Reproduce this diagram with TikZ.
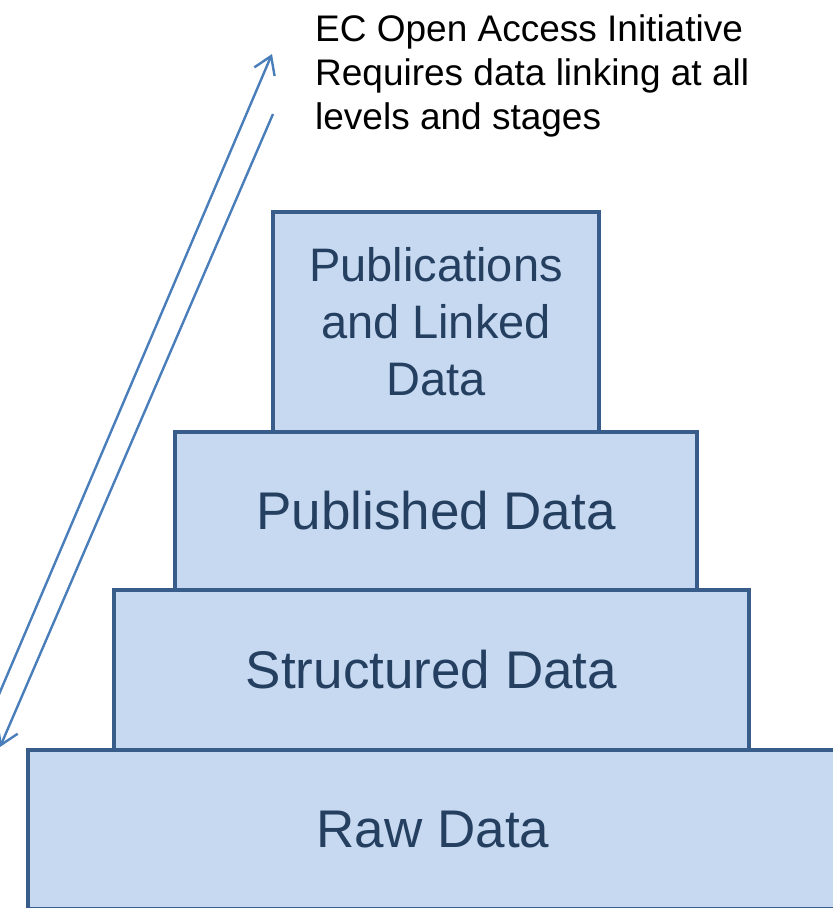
\documentclass[tikz,border=0pt]{standalone}
\usepackage{fontspec}
\setmainfont{Liberation Sans}
\usetikzlibrary{arrows.meta}
\definecolor{boxfill}{HTML}{C6D9F1}
\definecolor{boxline}{HTML}{385D8A}
\definecolor{boxtext}{HTML}{243F60}
\definecolor{arrowblue}{HTML}{4A7EBB}
\tikzset{
  tier/.style={draw=boxline, fill=boxfill, line width=4pt, anchor=north west,
    inner sep=0pt, outer sep=0pt, text=boxtext, align=center,
    font=\fontsize{53}{64}\selectfont},
  longarrow/.style={draw=arrowblue, line width=2.4pt,
    -{Straight Barb[length=17pt, width=22pt, line width=2.4pt]}},
}
\begin{document}
\begin{tikzpicture}[x=1pt, y=-1pt]
  \useasboundingbox (0,0) rectangle (833,908);
  \clip (0,0) rectangle (833,908);

  % pyramid tiers, bottom to top
  \node[tier, minimum width=810pt, minimum height=159pt] (raw) at (28,750) {Raw Data};
  \node[tier, minimum width=635pt, minimum height=160pt] (structured) at (114,590) {Structured Data};
  \node[tier, minimum width=522pt, minimum height=158pt] (published) at (175,432) {Published Data};
  \node[tier, minimum width=326pt, minimum height=220pt,
        font=\fontsize{47}{57}\selectfont] (linked) at (273,212)
        {Publications\\and Linked\\Data};

  % caption
  \node[anchor=north west, inner sep=0pt, align=left, text=black,
        font=\fontsize{37}{44}\selectfont] (caption) at (315,14)
        {EC Open Access Initiative\\Requires data linking at all\\levels and stages};

  % two-way arrows along the left side
  \coordinate (upstart) at (-3,699);
  \coordinate (uptip) at (272,54);
  \coordinate (downstart) at (273,114);
  \coordinate (downtip) at (0,747);
  \draw[longarrow] (upstart) -- (uptip);
  \draw[longarrow] (downstart) -- (downtip);
\end{tikzpicture}
\end{document}
